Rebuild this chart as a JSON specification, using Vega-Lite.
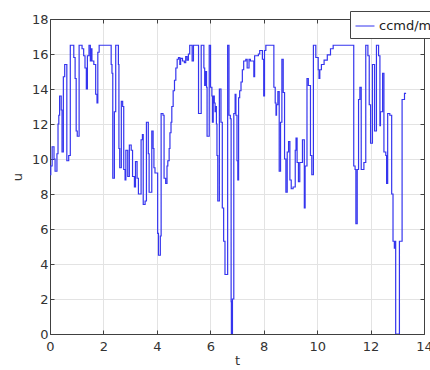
{
  "$schema": "https://vega.github.io/schema/vega-lite/v6.json",
  "autosize": "none",
  "width": 374,
  "height": 315,
  "padding": {"left": 50, "top": 19, "right": 6, "bottom": 36},
  "background": "white",
  "config": {
    "view": {"stroke": null},
    "axis": {
      "domainColor": "#404040",
      "tickColor": "#404040",
      "gridColor": "#e3e3e3",
      "labelColor": "#333333",
      "titleColor": "#333333",
      "labelFont": "DejaVu Sans",
      "titleFont": "DejaVu Sans",
      "labelFontSize": 13,
      "titleFontSize": 13,
      "titleFontWeight": "normal",
      "tickSize": -4,
      "labelFlush": false,
      "labelOverlap": false,
      "domainWidth": 1,
      "gridWidth": 1
    },
    "legend": {"labelFont": "DejaVu Sans"}
  },
  "data": {
    "values": [
      {"t": 0, "u": 9.1, "s": "ccmd/m"},
      {"t": 0.03, "u": 9.6, "s": "ccmd/m"},
      {"t": 0.08, "u": 10.7, "s": "ccmd/m"},
      {"t": 0.15, "u": 10.0, "s": "ccmd/m"},
      {"t": 0.19, "u": 9.3, "s": "ccmd/m"},
      {"t": 0.26, "u": 10.3, "s": "ccmd/m"},
      {"t": 0.30, "u": 12.0, "s": "ccmd/m"},
      {"t": 0.33, "u": 12.5, "s": "ccmd/m"},
      {"t": 0.36, "u": 13.6, "s": "ccmd/m"},
      {"t": 0.42, "u": 12.8, "s": "ccmd/m"},
      {"t": 0.45, "u": 10.4, "s": "ccmd/m"},
      {"t": 0.50, "u": 14.7, "s": "ccmd/m"},
      {"t": 0.55, "u": 15.4, "s": "ccmd/m"},
      {"t": 0.63, "u": 9.9, "s": "ccmd/m"},
      {"t": 0.70, "u": 10.2, "s": "ccmd/m"},
      {"t": 0.76, "u": 16.5, "s": "ccmd/m"},
      {"t": 0.89, "u": 15.8, "s": "ccmd/m"},
      {"t": 0.94, "u": 14.6, "s": "ccmd/m"},
      {"t": 0.98, "u": 11.6, "s": "ccmd/m"},
      {"t": 1.02, "u": 11.3, "s": "ccmd/m"},
      {"t": 1.09, "u": 16.5, "s": "ccmd/m"},
      {"t": 1.20, "u": 16.3, "s": "ccmd/m"},
      {"t": 1.26, "u": 15.9, "s": "ccmd/m"},
      {"t": 1.31, "u": 15.2, "s": "ccmd/m"},
      {"t": 1.36, "u": 14.0, "s": "ccmd/m"},
      {"t": 1.40, "u": 15.9, "s": "ccmd/m"},
      {"t": 1.46, "u": 16.5, "s": "ccmd/m"},
      {"t": 1.51, "u": 15.6, "s": "ccmd/m"},
      {"t": 1.54, "u": 16.3, "s": "ccmd/m"},
      {"t": 1.57, "u": 15.6, "s": "ccmd/m"},
      {"t": 1.64, "u": 15.4, "s": "ccmd/m"},
      {"t": 1.71, "u": 13.7, "s": "ccmd/m"},
      {"t": 1.76, "u": 13.2, "s": "ccmd/m"},
      {"t": 1.79, "u": 16.1, "s": "ccmd/m"},
      {"t": 1.84, "u": 16.5, "s": "ccmd/m"},
      {"t": 2.29, "u": 15.4, "s": "ccmd/m"},
      {"t": 2.32, "u": 14.9, "s": "ccmd/m"},
      {"t": 2.35, "u": 8.9, "s": "ccmd/m"},
      {"t": 2.41, "u": 12.7, "s": "ccmd/m"},
      {"t": 2.46, "u": 16.5, "s": "ccmd/m"},
      {"t": 2.56, "u": 15.4, "s": "ccmd/m"},
      {"t": 2.58, "u": 10.6, "s": "ccmd/m"},
      {"t": 2.61, "u": 9.5, "s": "ccmd/m"},
      {"t": 2.67, "u": 13.3, "s": "ccmd/m"},
      {"t": 2.72, "u": 13.0, "s": "ccmd/m"},
      {"t": 2.76, "u": 9.4, "s": "ccmd/m"},
      {"t": 2.81, "u": 8.8, "s": "ccmd/m"},
      {"t": 2.84, "u": 10.5, "s": "ccmd/m"},
      {"t": 2.91, "u": 9.0, "s": "ccmd/m"},
      {"t": 2.97, "u": 10.8, "s": "ccmd/m"},
      {"t": 3.04, "u": 10.5, "s": "ccmd/m"},
      {"t": 3.09, "u": 9.0, "s": "ccmd/m"},
      {"t": 3.16, "u": 8.4, "s": "ccmd/m"},
      {"t": 3.20, "u": 9.85, "s": "ccmd/m"},
      {"t": 3.26, "u": 8.9, "s": "ccmd/m"},
      {"t": 3.31, "u": 8.0, "s": "ccmd/m"},
      {"t": 3.41, "u": 11.1, "s": "ccmd/m"},
      {"t": 3.46, "u": 11.4, "s": "ccmd/m"},
      {"t": 3.49, "u": 7.4, "s": "ccmd/m"},
      {"t": 3.56, "u": 7.6, "s": "ccmd/m"},
      {"t": 3.61, "u": 12.1, "s": "ccmd/m"},
      {"t": 3.68, "u": 10.3, "s": "ccmd/m"},
      {"t": 3.71, "u": 8.1, "s": "ccmd/m"},
      {"t": 3.81, "u": 11.6, "s": "ccmd/m"},
      {"t": 3.86, "u": 10.6, "s": "ccmd/m"},
      {"t": 3.89, "u": 9.5, "s": "ccmd/m"},
      {"t": 3.93, "u": 9.2, "s": "ccmd/m"},
      {"t": 4.03, "u": 5.75, "s": "ccmd/m"},
      {"t": 4.06, "u": 4.5, "s": "ccmd/m"},
      {"t": 4.13, "u": 5.6, "s": "ccmd/m"},
      {"t": 4.16, "u": 12.6, "s": "ccmd/m"},
      {"t": 4.23, "u": 12.5, "s": "ccmd/m"},
      {"t": 4.27, "u": 8.9, "s": "ccmd/m"},
      {"t": 4.33, "u": 8.6, "s": "ccmd/m"},
      {"t": 4.38, "u": 9.6, "s": "ccmd/m"},
      {"t": 4.41, "u": 9.9, "s": "ccmd/m"},
      {"t": 4.46, "u": 10.6, "s": "ccmd/m"},
      {"t": 4.49, "u": 11.5, "s": "ccmd/m"},
      {"t": 4.53, "u": 12.1, "s": "ccmd/m"},
      {"t": 4.56, "u": 13.0, "s": "ccmd/m"},
      {"t": 4.61, "u": 13.9, "s": "ccmd/m"},
      {"t": 4.66, "u": 14.5, "s": "ccmd/m"},
      {"t": 4.71, "u": 15.2, "s": "ccmd/m"},
      {"t": 4.76, "u": 15.7, "s": "ccmd/m"},
      {"t": 4.81, "u": 15.8, "s": "ccmd/m"},
      {"t": 4.86, "u": 15.4, "s": "ccmd/m"},
      {"t": 4.89, "u": 15.75, "s": "ccmd/m"},
      {"t": 4.96, "u": 15.6, "s": "ccmd/m"},
      {"t": 5.03, "u": 15.5, "s": "ccmd/m"},
      {"t": 5.08, "u": 15.85, "s": "ccmd/m"},
      {"t": 5.13, "u": 15.65, "s": "ccmd/m"},
      {"t": 5.18, "u": 16.0, "s": "ccmd/m"},
      {"t": 5.23, "u": 16.5, "s": "ccmd/m"},
      {"t": 5.32, "u": 15.6, "s": "ccmd/m"},
      {"t": 5.37, "u": 16.5, "s": "ccmd/m"},
      {"t": 5.56, "u": 12.6, "s": "ccmd/m"},
      {"t": 5.66, "u": 16.5, "s": "ccmd/m"},
      {"t": 5.76, "u": 15.2, "s": "ccmd/m"},
      {"t": 5.79, "u": 14.2, "s": "ccmd/m"},
      {"t": 5.83, "u": 15.0, "s": "ccmd/m"},
      {"t": 5.86, "u": 14.1, "s": "ccmd/m"},
      {"t": 5.88, "u": 11.3, "s": "ccmd/m"},
      {"t": 5.96, "u": 16.5, "s": "ccmd/m"},
      {"t": 6.01, "u": 14.1, "s": "ccmd/m"},
      {"t": 6.06, "u": 13.6, "s": "ccmd/m"},
      {"t": 6.08, "u": 12.1, "s": "ccmd/m"},
      {"t": 6.11, "u": 13.6, "s": "ccmd/m"},
      {"t": 6.15, "u": 13.2, "s": "ccmd/m"},
      {"t": 6.18, "u": 12.7, "s": "ccmd/m"},
      {"t": 6.21, "u": 13.0, "s": "ccmd/m"},
      {"t": 6.23, "u": 12.0, "s": "ccmd/m"},
      {"t": 6.25, "u": 10.2, "s": "ccmd/m"},
      {"t": 6.28, "u": 7.6, "s": "ccmd/m"},
      {"t": 6.34, "u": 14.0, "s": "ccmd/m"},
      {"t": 6.40, "u": 12.1, "s": "ccmd/m"},
      {"t": 6.45, "u": 7.2, "s": "ccmd/m"},
      {"t": 6.50, "u": 5.3, "s": "ccmd/m"},
      {"t": 6.55, "u": 3.4, "s": "ccmd/m"},
      {"t": 6.65, "u": 16.5, "s": "ccmd/m"},
      {"t": 6.70, "u": 12.5, "s": "ccmd/m"},
      {"t": 6.75, "u": 12.3, "s": "ccmd/m"},
      {"t": 6.78, "u": 1.85, "s": "ccmd/m"},
      {"t": 6.79, "u": 0, "s": "ccmd/m"},
      {"t": 6.83, "u": 2.0, "s": "ccmd/m"},
      {"t": 6.88, "u": 12.6, "s": "ccmd/m"},
      {"t": 6.93, "u": 13.7, "s": "ccmd/m"},
      {"t": 6.96, "u": 12.5, "s": "ccmd/m"},
      {"t": 7.00, "u": 9.9, "s": "ccmd/m"},
      {"t": 7.03, "u": 8.8, "s": "ccmd/m"},
      {"t": 7.06, "u": 13.5, "s": "ccmd/m"},
      {"t": 7.10, "u": 13.9, "s": "ccmd/m"},
      {"t": 7.15, "u": 14.4, "s": "ccmd/m"},
      {"t": 7.20, "u": 15.1, "s": "ccmd/m"},
      {"t": 7.25, "u": 15.6, "s": "ccmd/m"},
      {"t": 7.33, "u": 15.7, "s": "ccmd/m"},
      {"t": 7.38, "u": 15.2, "s": "ccmd/m"},
      {"t": 7.45, "u": 15.7, "s": "ccmd/m"},
      {"t": 7.50, "u": 15.6, "s": "ccmd/m"},
      {"t": 7.63, "u": 14.7, "s": "ccmd/m"},
      {"t": 7.66, "u": 15.9, "s": "ccmd/m"},
      {"t": 7.80, "u": 16.0, "s": "ccmd/m"},
      {"t": 7.85, "u": 16.2, "s": "ccmd/m"},
      {"t": 7.95, "u": 15.7, "s": "ccmd/m"},
      {"t": 8.00, "u": 13.6, "s": "ccmd/m"},
      {"t": 8.03, "u": 16.2, "s": "ccmd/m"},
      {"t": 8.08, "u": 16.5, "s": "ccmd/m"},
      {"t": 8.38, "u": 14.1, "s": "ccmd/m"},
      {"t": 8.43, "u": 13.2, "s": "ccmd/m"},
      {"t": 8.46, "u": 12.5, "s": "ccmd/m"},
      {"t": 8.48, "u": 13.1, "s": "ccmd/m"},
      {"t": 8.53, "u": 13.85, "s": "ccmd/m"},
      {"t": 8.58, "u": 9.3, "s": "ccmd/m"},
      {"t": 8.63, "u": 12.1, "s": "ccmd/m"},
      {"t": 8.68, "u": 15.7, "s": "ccmd/m"},
      {"t": 8.73, "u": 13.8, "s": "ccmd/m"},
      {"t": 8.78, "u": 10.0, "s": "ccmd/m"},
      {"t": 8.83, "u": 8.1, "s": "ccmd/m"},
      {"t": 8.88, "u": 10.4, "s": "ccmd/m"},
      {"t": 8.93, "u": 11.0, "s": "ccmd/m"},
      {"t": 8.98, "u": 8.8, "s": "ccmd/m"},
      {"t": 9.03, "u": 8.3, "s": "ccmd/m"},
      {"t": 9.10, "u": 8.4, "s": "ccmd/m"},
      {"t": 9.18, "u": 10.5, "s": "ccmd/m"},
      {"t": 9.21, "u": 11.2, "s": "ccmd/m"},
      {"t": 9.25, "u": 9.8, "s": "ccmd/m"},
      {"t": 9.30, "u": 8.7, "s": "ccmd/m"},
      {"t": 9.35, "u": 9.8, "s": "ccmd/m"},
      {"t": 9.45, "u": 11.1, "s": "ccmd/m"},
      {"t": 9.52, "u": 7.2, "s": "ccmd/m"},
      {"t": 9.55, "u": 9.6, "s": "ccmd/m"},
      {"t": 9.62, "u": 14.6, "s": "ccmd/m"},
      {"t": 9.67, "u": 14.2, "s": "ccmd/m"},
      {"t": 9.75, "u": 10.2, "s": "ccmd/m"},
      {"t": 9.80, "u": 9.1, "s": "ccmd/m"},
      {"t": 9.86, "u": 16.5, "s": "ccmd/m"},
      {"t": 9.95, "u": 15.8, "s": "ccmd/m"},
      {"t": 10.04, "u": 15.1, "s": "ccmd/m"},
      {"t": 10.07, "u": 14.6, "s": "ccmd/m"},
      {"t": 10.10, "u": 15.1, "s": "ccmd/m"},
      {"t": 10.16, "u": 15.4, "s": "ccmd/m"},
      {"t": 10.26, "u": 15.65, "s": "ccmd/m"},
      {"t": 10.38, "u": 15.95, "s": "ccmd/m"},
      {"t": 10.50, "u": 16.3, "s": "ccmd/m"},
      {"t": 10.60, "u": 16.5, "s": "ccmd/m"},
      {"t": 11.37, "u": 9.6, "s": "ccmd/m"},
      {"t": 11.42, "u": 9.4, "s": "ccmd/m"},
      {"t": 11.45, "u": 6.3, "s": "ccmd/m"},
      {"t": 11.50, "u": 9.4, "s": "ccmd/m"},
      {"t": 11.55, "u": 13.4, "s": "ccmd/m"},
      {"t": 11.60, "u": 14.1, "s": "ccmd/m"},
      {"t": 11.65, "u": 9.4, "s": "ccmd/m"},
      {"t": 11.75, "u": 9.8, "s": "ccmd/m"},
      {"t": 11.82, "u": 16.5, "s": "ccmd/m"},
      {"t": 11.90, "u": 15.9, "s": "ccmd/m"},
      {"t": 11.95, "u": 13.1, "s": "ccmd/m"},
      {"t": 12.00, "u": 10.9, "s": "ccmd/m"},
      {"t": 12.07, "u": 15.4, "s": "ccmd/m"},
      {"t": 12.15, "u": 11.6, "s": "ccmd/m"},
      {"t": 12.22, "u": 16.5, "s": "ccmd/m"},
      {"t": 12.30, "u": 15.9, "s": "ccmd/m"},
      {"t": 12.35, "u": 11.9, "s": "ccmd/m"},
      {"t": 12.37, "u": 12.7, "s": "ccmd/m"},
      {"t": 12.45, "u": 14.9, "s": "ccmd/m"},
      {"t": 12.50, "u": 10.4, "s": "ccmd/m"},
      {"t": 12.57, "u": 10.2, "s": "ccmd/m"},
      {"t": 12.60, "u": 8.6, "s": "ccmd/m"},
      {"t": 12.64, "u": 12.6, "s": "ccmd/m"},
      {"t": 12.72, "u": 12.5, "s": "ccmd/m"},
      {"t": 12.79, "u": 8.0, "s": "ccmd/m"},
      {"t": 12.84, "u": 5.3, "s": "ccmd/m"},
      {"t": 12.89, "u": 4.9, "s": "ccmd/m"},
      {"t": 12.92, "u": 5.3, "s": "ccmd/m"},
      {"t": 12.94, "u": 0, "s": "ccmd/m"},
      {"t": 13.08, "u": 5.3, "s": "ccmd/m"},
      {"t": 13.18, "u": 13.4, "s": "ccmd/m"},
      {"t": 13.27, "u": 13.75, "s": "ccmd/m"},
      {"t": 13.33, "u": 13.75, "s": "ccmd/m"}
    ]
  },
  "layer": [
    {
      "mark": {"type": "line", "interpolate": "step-after", "strokeWidth": 1.2, "clip": true},
      "encoding": {
        "x": {
          "field": "t", "type": "quantitative",
          "scale": {"domain": [0, 14], "nice": false, "zero": false},
          "axis": {"values": [0, 2, 4, 6, 8, 10, 12, 14], "title": "t", "labelPadding": 10, "titlePadding": 1, "grid": true}
        },
        "y": {
          "field": "u", "type": "quantitative",
          "scale": {"domain": [0, 18], "nice": false, "zero": false},
          "axis": {"values": [0, 2, 4, 6, 8, 10, 12, 14, 16, 18], "title": "u", "labelPadding": 6, "titlePadding": 7, "grid": true}
        },
        "color": {
          "field": "s", "type": "nominal",
          "scale": {"range": ["#3535ee"]},
          "legend": {
            "orient": "none", "legendX": 300, "legendY": -8,
            "title": null, "symbolType": "stroke", "symbolSize": 360, "symbolStrokeWidth": 1,
            "labelFontSize": 13, "labelColor": "#222222",
            "strokeColor": "#444444", "fillColor": "white", "padding": 5
          }
        }
      }
    },
    {
      "mark": {"type": "line", "strokeOpacity": 0},
      "encoding": {
        "x": {
          "field": "t", "type": "quantitative",
          "axis": {"orient": "top", "values": [0, 2, 4, 6, 8, 10, 12, 14], "labels": false, "title": null, "grid": false}
        },
        "y": {
          "field": "u", "type": "quantitative",
          "axis": {"orient": "right", "values": [0, 2, 4, 6, 8, 10, 12, 14, 16, 18], "labels": false, "title": null, "grid": false}
        }
      }
    }
  ],
  "resolve": {"axis": {"x": "independent", "y": "independent"}}
}
